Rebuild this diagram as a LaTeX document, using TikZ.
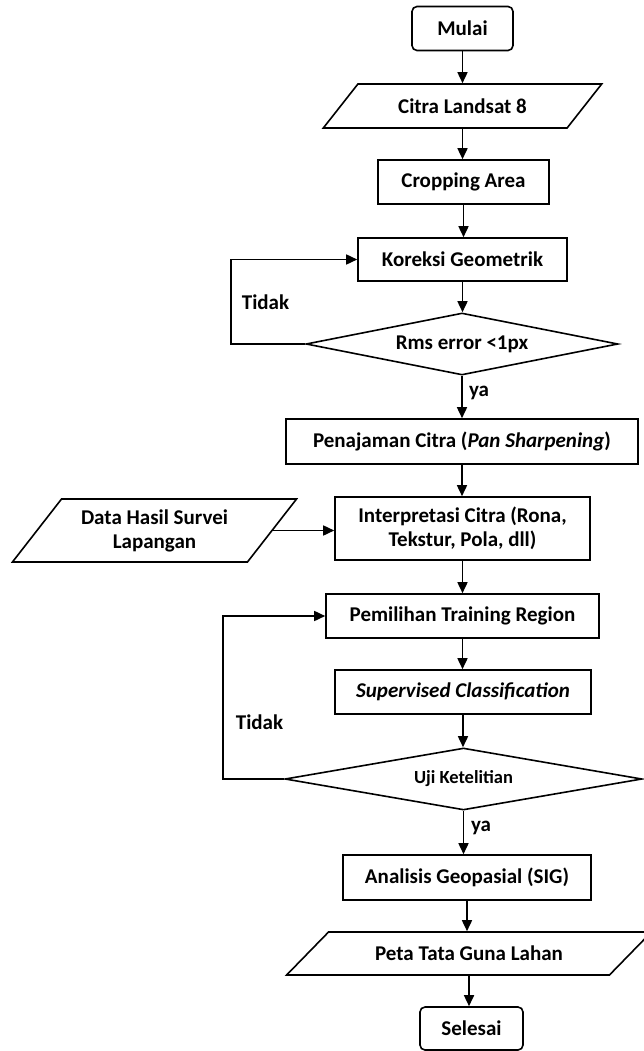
\documentclass[tikz,border=0pt]{standalone}
\usepackage{fontspec}
\setmainfont{Carlito}
\usetikzlibrary{shapes.geometric,arrows.meta}

\begin{document}
\begin{tikzpicture}[x=1pt, y=-1pt, line width=1.6pt]
  \tikzset{every node/.style={font=\fontsize{21}{24}\selectfont\bfseries, align=center, inner sep=1pt},
           terminal/.style={draw, rounded corners=5pt, minimum width=#1, minimum height=44pt},
           proses/.style={draw, rectangle, minimum width=#1, minimum height=44pt},
           dataio/.style={draw, trapezium, trapezium stretches=true, minimum width=#1},
           keputusan/.style={draw, diamond, aspect=5.5, minimum width=#1, minimum height=62pt, inner sep=0pt},
           arr/.style={-{Triangle[length=11pt,width=10pt]}}}
  \useasboundingbox (0,0) rectangle (644,1051);
  \clip (0,0) rectangle (644,1051);

  \node[terminal=101pt] (mulai) at (462.5,28.5) {Mulai};
  \node[dataio=279pt, minimum height=44pt, trapezium left angle=38, trapezium right angle=142] (citra) at (462.5,106) {Citra Landsat 8};
  \node[proses=171pt] (crop) at (463.5,182) {Cropping Area};
  \node[proses=209pt, minimum height=43pt] (koreksi) at (462.5,259.5) {Koreksi Geometrik};
  \node[keputusan=312pt] (rms) at (462,344) {Rms error <1px};
  \node[proses=352pt, minimum height=45pt] (pan) at (462,441.5) {Penajaman Citra (\textit{Pan Sharpening})};
  \node[proses=255pt, minimum height=63pt] (interp) at (462.5,528.5) {Interpretasi Citra (Rona,\\Tekstur, Pola, dll)};
  \node[dataio=285pt, minimum height=63pt, trapezium left angle=48.4, trapezium right angle=131.6] (survei) at (154.5,530.5) {Data Hasil Survei\\Lapangan};
  \node[proses=273pt] (training) at (462.5,616) {Pemilihan Training Region};
  \node[proses=256pt] (klasifikasi) at (463,692) {\textit{Supervised Classification}};
  \node[keputusan=357pt, font=\fontsize{18.5}{22}\selectfont\bfseries] (uji) at (463.5,779) {Uji Ketelitian};
  \node[proses=248pt, minimum height=45pt] (sig) at (467,877.5) {Analisis Geopasial (SIG)};
  \node[dataio=366pt, minimum height=43pt, trapezium left angle=30.8, trapezium right angle=149.2] (peta) at (469,953.5) {Peta Tata Guna Lahan};
  \node[terminal=103pt, minimum height=43pt] (selesai) at (471.5,1028.5) {Selesai};

  \node (tidak1) at (265.5,302.5) {Tidak};
  \node (tidak2) at (259.5,722) {Tidak};
  \node (ya1) at (479,392.5) {ya};
  \node (ya2) at (481,828) {ya};

  \draw[arr] (mulai.south) -- (mulai.south |- citra.north);
  \draw[arr] (citra.south) -- (citra.south |- crop.north);
  \draw[arr] (crop.south) -- (crop.south |- koreksi.north);
  \draw[arr] (koreksi.south) -- (koreksi.south |- rms.north);
  \draw[arr] (rms.south) -- (rms.south |- pan.north);
  \draw[arr] (pan.south) -- (pan.south |- interp.north);
  \draw[arr] (interp.south) -- (interp.south |- training.north);
  \draw[arr] (training.south) -- (training.south |- klasifikasi.north);
  \draw[arr] (klasifikasi.south) -- (klasifikasi.south |- uji.north);
  \draw[arr] (uji.south) -- (uji.south |- sig.north);
  \draw[arr] (sig.south) -- (sig.south |- peta.north);
  \draw[arr] (peta.south) -- (peta.south |- selesai.north);
  \draw[arr] (survei.east) -- (survei.east -| interp.west);
  \draw[arr] (rms.west) -- ++(-74,0) |- (koreksi.west);
  \draw[arr] (uji.west) -- ++(-61,0) |- (training.west);
\end{tikzpicture}
\end{document}
